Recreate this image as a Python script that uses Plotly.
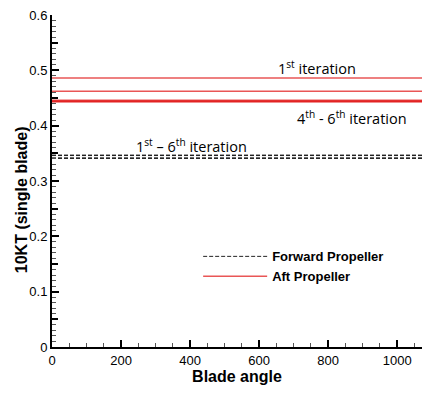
import plotly.graph_objects as go

x_range = [0, 1080]
forward_kt = [0.3465, 0.3465, 0.346, 0.3415, 0.341, 0.341]
aft_kt = [0.486, 0.462, 0.446, 0.4445, 0.4435, 0.443]
x_ticks = [0, 200, 400, 600, 800, 1000]
y_ticks = [0, 0.1, 0.2, 0.3, 0.4, 0.5, 0.6]

fig = go.Figure()
for i, v in enumerate(forward_kt):
    fig.add_trace(go.Scatter(x=x_range, y=[v, v], mode="lines",
                             line=dict(color="#222222", width=1, dash="4px,2px"),
                             name="Forward Propeller", legendgroup="f",
                             showlegend=(i == 0)))
for i, v in enumerate(aft_kt):
    fig.add_trace(go.Scatter(x=x_range, y=[v, v], mode="lines",
                             line=dict(color="rgba(225,30,30,0.75)", width=1.5),
                             name="Aft Propeller", legendgroup="a",
                             showlegend=(i == 0)))
# helper for mid ticks
fig.add_trace(go.Scatter(x=[0], y=[0], yaxis="y2", mode="markers",
                         marker=dict(opacity=0), showlegend=False, hoverinfo="skip"))

font = "Liberation Sans, Arial, sans-serif"
fig.update_layout(
    width=422, height=395,
    margin=dict(l=52, r=0, t=15, b=48),
    paper_bgcolor="white", plot_bgcolor="white",
    font=dict(family=font, size=13, color="black"),
    xaxis=dict(range=[0, 1072], tickvals=x_ticks, ticks="inside", ticklen=7,
               tickwidth=2, tickcolor="black", showline=True, linecolor="black",
               linewidth=2, showgrid=False, zeroline=False,
               minor=dict(dtick=50, tick0=0, ticks="inside", ticklen=4, tickcolor="#555", tickwidth=1),
               title=dict(text="<b>Blade angle</b>", font=dict(size=16), standoff=1)),
    yaxis=dict(range=[0, 0.6], tickvals=y_ticks, ticktext=["0", "0.1", "0.2", "0.3", "0.4", "0.5", "0.6"],
               ticks="inside", ticklen=7, tickwidth=2, tickcolor="black",
               showline=True, linecolor="black", linewidth=2, showgrid=False, zeroline=False,
               minor=dict(dtick=0.01, tick0=0, ticks="inside", ticklen=4, tickcolor="#555", tickwidth=1)),
    yaxis2=dict(range=[0, 0.6], overlaying="y", side="left", anchor="x",
                tickvals=[0.05, 0.15, 0.25, 0.35, 0.45, 0.55], ticks="inside", ticklen=6,
                tickwidth=1.5, tickcolor="black", showticklabels=False, showline=False,
                showgrid=False, zeroline=False),
    legend=dict(x=0.395, y=0.318, xanchor="left", yanchor="top",
                font=dict(size=13, family=font, color="black", weight="bold"),
                bgcolor="rgba(0,0,0,0)", tracegroupgap=0, itemwidth=64),
    showlegend=True,
)

ann_font = dict(family="Open Sans, Liberation Sans, sans-serif", size=14.5, color="black")
fig.add_annotation(x=-0.084, y=0.267, xref="paper", yref="y", text="<b>10KT (single blade)</b>",
                   textangle=-90, showarrow=False, xanchor="center", yanchor="middle",
                   font=dict(family=font, size=16, color="black"))
fig.add_annotation(x=768, y=0.505, text="1<sup>st</sup> iteration",
                   showarrow=False, xanchor="center", yanchor="middle", font=ann_font)
fig.add_annotation(x=870, y=0.414, text="4<sup>th</sup> - 6<sup>th</sup> iteration",
                   showarrow=False, xanchor="center", yanchor="middle", font=ann_font)
fig.add_annotation(x=403, y=0.364, text="1<sup>st</sup> – 6<sup>th</sup> iteration",
                   showarrow=False, xanchor="center", yanchor="middle", font=ann_font)

fig.write_html("out.html")
